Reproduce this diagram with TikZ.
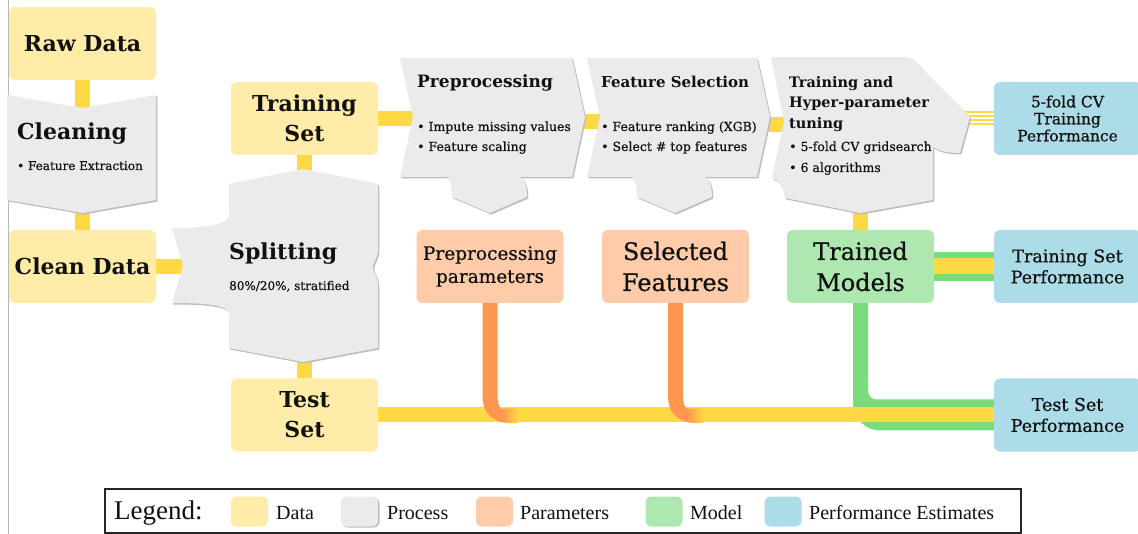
\documentclass[tikz,border=0pt]{standalone}
\usepackage{fontspec}
\setmainfont{DejaVuSerif}[Extension=.ttf, BoldFont=DejaVuSerif-Bold]
\newfontfamily\boxfont{DejaVuSerif}[Extension=.ttf, BoldFont=DejaVuSerif-Bold]
\newfontfamily\regfont{DejaVuSerif}[Extension=.ttf, FakeBold=0.6]
\newfontfamily\legendfont{Liberation Serif}
\usetikzlibrary{calc}

\definecolor{datafill}{HTML}{FFECA8}
\definecolor{procfill}{HTML}{EBEBEB}
\definecolor{procshadow}{HTML}{BDBDBD}
\definecolor{paramfill}{HTML}{FFCBA8}
\definecolor{modelfill}{HTML}{AEE8B0}
\definecolor{perffill}{HTML}{ADDCE9}
\definecolor{connY}{HTML}{FFD944}
\definecolor{connO}{HTML}{FF9650}
\definecolor{connG}{HTML}{7ADB7C}
\definecolor{inkc}{HTML}{111111}

\pgfdeclarelayer{paper}
\pgfdeclarelayer{wires}
\pgfsetlayers{paper,wires,main}

% outlines of the process shapes
\def\pathClean{(7,95) -- (83,108) -- (156,95) -- (156,200) -- (83,213) -- (7,200) -- cycle}
\def\pathSplit{(229,184) -- (303,169) -- (378,184) -- (378,250)
  .. controls (378,258) and (373,262) .. (373,267)
  .. controls (373,272) and (378,277) .. (378,286) -- (378,348)
  -- (303,362) -- (229,348) -- (229,314)
  .. controls (229,305) and (205,303) .. (172,303) -- (183,265) -- (172,228)
  .. controls (205,228) and (229,225) .. (229,215) -- cycle}
\def\pathPrep{(400,58) -- (572,58) -- (585,117) -- (572,177) -- (520,177)
  .. controls (525,179) and (527,187) .. (527,197) -- (490,213) -- (452,197)
  .. controls (452,187) and (450,180) .. (447,177) -- (400,177) -- (413,117) -- cycle}
\def\pathFS{(587,58) -- (757,58) -- (770,117) -- (757,177) -- (705,177)
  .. controls (710,179) and (712,187) .. (712,197) -- (675,213) -- (637,197)
  .. controls (637,187) and (635,180) .. (632,177) -- (587,177) -- (600,117) -- cycle}
\def\pathTune{(771,57) -- (903,57) .. controls (913,57) and (919,63) .. (923,70)
  -- (970,117) -- (960,153) .. controls (948,153) and (938,151) .. (933,147)
  -- (933,200) -- (860,213) -- (785,198)
  .. controls (783,186) and (778,180) .. (772,178) -- (784,122) -- cycle}

\tikzset{
  box/.style={rounded corners=6pt, minimum width=147pt, minimum height=73pt,
    align=center, inner sep=0pt, text=inkc},
  databox/.style={box, fill=datafill, font=\boxfont\fontsize{22}{30}\selectfont\bfseries},
  parambox/.style={box, fill=paramfill},
  modelbox/.style={box, fill=modelfill},
  perfbox/.style={box, fill=perffill},
  proclabel/.style={anchor=base west, inner sep=0pt, text=inkc},
  procbullet/.style={proclabel, font=\regfont\fontsize{12.5}{15}\selectfont},
  yconn/.style={connY, line width=15pt},
  gconn/.style={connG, line width=15pt},
  swatch/.style={rounded corners=6pt, minimum width=37pt, minimum height=30pt, inner sep=0pt},
  legtext/.style={anchor=base west, inner sep=0pt, font=\legendfont\fontsize{20}{24}\selectfont, text=inkc},
  procshape/.style={fill=procfill},
  procshade/.style={fill=procshadow, shift={(1.3,1.5)}}
}

\begin{document}
\begin{tikzpicture}[x=1pt,y=-1pt]
\useasboundingbox (0,0) rectangle (1138,534);
\begin{pgfonlayer}{paper}
  \fill[white] (0,0) rectangle (1138,534);
  % thin rule on the left margin
  \draw[black!28, line width=1pt] (8,0) -- (8,534);
\end{pgfonlayer}

% ---------- data, parameter, model and performance boxes ----------
\node[databox] (raw)   at (82.5,43.5)  {Raw Data};
\node[databox] (clean) at (82.5,266.5) {Clean Data};
\node[databox] (train) at (304.5,118.5) {Training\\Set};
\node[databox] (test)  at (304.5,415)  {Test\\Set};

\node[parambox, font=\regfont\fontsize{18.5}{23}\selectfont] (pparams) at (490,266.5) {Preprocessing\\parameters};
\node[parambox, font=\regfont\fontsize{24}{31}\selectfont] (selfeat) at (675.5,266.5) {Selected\\Features};
\node[modelbox, font=\regfont\fontsize{24}{31}\selectfont] (trained) at (860.5,266.5) {Trained\\Models};

\node[perfbox, font=\regfont\fontsize{15.5}{17}\selectfont] (cvperf) at (1067.5,118.5) {5-fold CV\\Training\\Performance};
\node[perfbox, font=\regfont\fontsize{17.5}{21}\selectfont] (tsperf) at (1067.5,266.5) {Training Set\\Performance};
\node[perfbox, font=\regfont\fontsize{17.5}{21}\selectfont] (testperf) at (1067.5,415) {Test Set\\Performance};

% ---------- process shapes ----------
\fill[procshade] \pathClean;  \fill[procshape] \pathClean;
\fill[procshade] \pathSplit;  \fill[procshape] \pathSplit;
\fill[procshade] \pathPrep;   \fill[procshape] \pathPrep;
\fill[procshade] \pathFS;     \fill[procshape] \pathFS;
\fill[procshade] \pathTune;   \fill[procshape] \pathTune;

% docking points on the process shapes
\coordinate (cleanIn)  at (82.5,112);
\coordinate (cleanOut) at (82.5,205);
\coordinate (splitIn)  at (188,266.5);
\coordinate (splitTop) at (304.5,172);
\coordinate (splitBot) at (304.5,358);
\coordinate (prepIn)   at (420,120);
\coordinate (prepOut)  at (578,121.5);
\coordinate (fsIn)     at (605,121.5);
\coordinate (fsOut)    at (763,124.5);
\coordinate (tuneIn)   at (790,124.5);
\coordinate (tuneTip)  at (960,118.5);
\coordinate (tuneBot)  at (860.5,205);

% process labels
\node[proclabel, font=\boxfont\fontsize{22}{26}\selectfont\bfseries] (cleanT) at (17,140) {Cleaning};
\node[procbullet, font=\regfont\fontsize{12}{15}\selectfont] (cleanB) at (17,170) {• Feature Extraction};

\node[proclabel, font=\boxfont\fontsize{22}{26}\selectfont\bfseries] (splitT) at (229,260) {Splitting};
\node[procbullet, font=\regfont\fontsize{12}{15}\selectfont] (splitB) at (229,290) {80\%/20\%, stratified};

\node[proclabel, font=\boxfont\fontsize{17}{20}\selectfont\bfseries] (prepT) at (417,88) {Preprocessing};
\node[procbullet] (prepB1) at (417,131) {• Impute missing values};
\node[procbullet] (prepB2) at (417,151) {• Feature scaling};

\node[proclabel, font=\boxfont\fontsize{15}{18}\selectfont\bfseries] (fsT) at (601,88) {Feature Selection};
\node[procbullet] (fsB1) at (601,131) {• Feature ranking (XGB)};
\node[procbullet] (fsB2) at (601,151) {• Select \# top features};

\node[proclabel, font=\boxfont\fontsize{14.5}{20.5}\selectfont\bfseries, align=left, anchor=north west] (tuneT) at (789,76)
  {Training and\\Hyper-parameter\\tuning};
\node[procbullet] (tuneB1) at (789,151) {• 5-fold CV gridsearch};
\node[procbullet] (tuneB2) at (789,172) {• 6 algorithms};

% ---------- connectors ----------
\begin{pgfonlayer}{wires}
  \draw[yconn] (raw.south) -- (cleanIn);
  \draw[yconn] (cleanOut) -- (clean.north);
  \draw[yconn] (clean.east) -- (splitIn);
  \draw[yconn] (train.south) -- (splitTop);
  \draw[yconn] (splitBot) -- (test.north);
  \draw[yconn] (train.east) -- (train.east -| prepIn);
  \draw[yconn] (prepOut) -- (fsIn);
  \draw[yconn] (fsOut) -- (tuneIn);
  \draw[yconn] (tuneBot) -- (trained.north);

  % cross-validation results: thin parallel strands
  \foreach \dy in {-6,-2,2,6}
    \draw[connY, line width=2pt] ([yshift=\dy pt]tuneTip) -- ([yshift=\dy pt]cvperf.west);

  % trained models to training set performance
  \draw[connG, line width=29pt] (trained.east) -- (tsperf.west);
  \draw[connY, line width=16pt] (trained.east) -- (tsperf.west);

  % trained models to test set performance
  \draw[gconn, rounded corners=16pt] (trained.south) |- ([yshift=8pt]testperf.west);
  \draw[gconn, rounded corners=20pt] ([yshift=-80pt]trained.south) |- ([yshift=-8pt]testperf.west);

  % test data to test set performance
  \draw[yconn] (test.east) -- (testperf.west);

  % fitted parameters merging into the test data stream
  \foreach \src in {pparams, selfeat} {
    \begin{scope}[shift={(\src.south)}]
      \fill[connO] (-7.5,0) -- (-7.5,93) .. controls (-7.5,108) and (0,116) .. (12,119)
        -- (12,106) .. controls (9,104) and (7.5,100) .. (7.5,90) -- (7.5,0) -- cycle;
      \shade[left color=connO, right color=connY]
        (11.5,119) .. controls (17,120) and (22,120) .. (28,120)
        -- (28,105) .. controls (20,105) and (15,105) .. (11.5,106) -- cycle;
    \end{scope}
  }
\end{pgfonlayer}

% ---------- legend ----------
\draw[black!85, line width=1.5pt] (105,489) rectangle (1021,533);
\node[anchor=base west, inner sep=0pt, font=\legendfont\fontsize{27}{30}\selectfont, text=inkc] (legT) at (114,519) {Legend:};
\node[swatch, fill=datafill] (swData) at (249.5,511.5) {};
\node[legtext] (ltData) at (276,519) {Data};
\fill[procshadow, rounded corners=6pt] (342,497.5) rectangle (379.5,527.5);
\node[swatch, fill=procfill] (swProc) at (359.5,511.5) {};
\node[legtext] (ltProc) at (387,519) {Process};
\node[swatch, fill=paramfill] (swPar) at (494.5,511.5) {};
\node[legtext] (ltPar) at (520,519) {Parameters};
\node[swatch, fill=modelfill] (swMod) at (664,511.5) {};
\node[legtext] (ltMod) at (690,519) {Model};
\node[swatch, fill=perffill] (swPerf) at (783,511.5) {};
\node[legtext] (ltPerf) at (809,519) {Performance Estimates};
\end{tikzpicture}
\end{document}
